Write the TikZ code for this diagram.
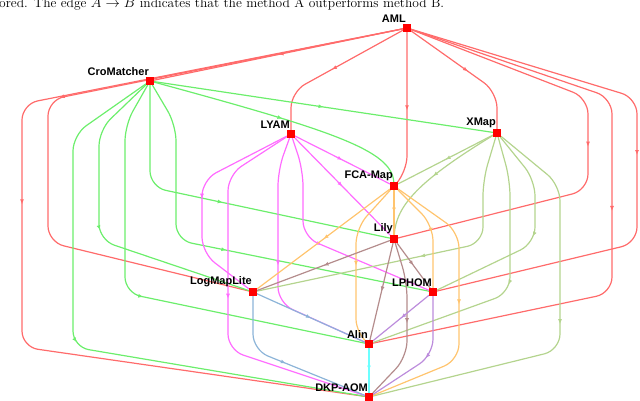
\documentclass[tikz,border=0pt]{standalone}
\usepackage{fontspec}
\newfontfamily\lab{Liberation Sans}
\usetikzlibrary{arrows.meta,decorations.markings,backgrounds}
\definecolor{cR}{HTML}{FF6B6B}
\definecolor{cG}{HTML}{6CEE6C}
\definecolor{cM}{HTML}{FF6CFF}
\definecolor{cO}{HTML}{B4D48E}
\definecolor{cY}{HTML}{FFC46E}
\definecolor{cB}{HTML}{B48C8C}
\definecolor{cL}{HTML}{8CB4D8}
\definecolor{cP}{HTML}{BC8CDC}
\definecolor{cC}{HTML}{6CFFFF}
\tikzset{
  vx/.style={fill=red,minimum size=8pt,inner sep=0pt,outer sep=0pt,
    label={[anchor=south east,inner sep=0pt,xshift=3pt,yshift=1pt,font=\lab\bfseries\fontsize{11}{12}\selectfont]north west:#1}},
  e/.style={line width=1.2pt,rounded corners=16pt,postaction={decorate},
    decoration={markings,mark=at position 0.5 with {\arrow{Latex[length=5pt,width=4pt]}}}},
}
\begin{document}
\begin{tikzpicture}[x=1pt,y=-1pt]
\useasboundingbox (0,0) rectangle (640,401);
\node[anchor=base west,inner sep=0pt,font=\fontsize{13.5}{14}\selectfont] (cap) at (-1,8) {ored. The edge $A\rightarrow B$ indicates that the method A outperforms method B.};
\node[vx=AML] (AML) at (407,28) {};
\node[vx=CroMatcher] (CRO) at (150,81) {};
\node[vx=LYAM] (LYAM) at (291,134) {};
\node[vx=XMap] (XM) at (497,133) {};
\node[vx=FCA-Map] (FCA) at (394,186) {};
\node[vx=Lily] (LI) at (394,239) {};
\node[vx=LogMapLite] (LML) at (253,292) {};
\node[vx=LPHOM] (LP) at (433,292) {};
\node[vx=Alin] (AL) at (369,344) {};
\node[vx=DKP-AOM] (DKP) at (369,397) {};
\begin{scope}[on background layer]
% AML
\draw[e,cR] (AML) -- (CRO);
\draw[e,cR] (AML) -- (291,92) -- (LYAM);
\draw[e,cR] (AML) -- (407,172) -- (FCA);
\draw[e,cR] (AML) -- (497,92) -- (XM);
\draw[e,cR] (AML) -- (22,104) -- (22,347) -- (DKP);
\draw[e,cR] (AML) -- (48,100) -- (48,242) -- (LML);
\draw[e,cR] (AML) -- (588,98) -- (588,190) -- (LI);
\draw[e,cR] (AML) -- (612,98) -- (612,293) -- (AL);
\draw[e,cR] (AML) -- (637,98) -- (637,243) -- (LP);
% CroMatcher
\draw[e,cG] (CRO) -- (XM);
\draw[e,cG] (CRO) .. controls (330,130) and (392,150) .. (FCA);
\draw[e,cG] (CRO) -- (73,135) -- (73,347) -- (DKP);
\draw[e,cG] (CRO) -- (99,130) -- (99,240) -- (LML);
\draw[e,cG] (CRO) -- (125,125) -- (125,293) -- (AL);
\draw[e,cG] (CRO) -- (150,187) -- (LI);
\draw[e,cG] (CRO) -- (176,125) -- (176,240) -- (LP);
% LYAM
\draw[e,cM] (LYAM) -- (FCA);
\draw[e,cM] (LYAM) -- (LI);
\draw[e,cM] (LYAM) -- (202,180) -- (202,253) -- (LML);
\draw[e,cM] (LYAM) -- (228,175) -- (228,350) -- (DKP);
\draw[e,cM] (LYAM) -- (278,170) -- (278,303) -- (AL);
\draw[e,cM] (LYAM) -- (303,170) -- (303,237) -- (LP);
% XMap
\draw[e,cO] (XM) -- (FCA);
\draw[e,cO] (XM) .. controls (420,180) and (396,205) .. (LI);
\draw[e,cO] (XM) -- (483,180) -- (483,243) -- (LML);
\draw[e,cO] (XM) -- (510,180) -- (510,293) -- (AL);
\draw[e,cO] (XM) -- (535,180) -- (535,243) -- (LP);
\draw[e,cO] (XM) -- (560,185) -- (560,350) -- (DKP);
% FCA-Map
\draw[e,cY] (FCA) -- (LML);
\draw[e,cY] (FCA) -- (LI);
\draw[e,cY] (FCA) -- (356,228) -- (356,335) -- (AL);
\draw[e,cY] (FCA) -- (433,225) -- (LP);
\draw[e,cY] (FCA) -- (459,232) -- (459,360) -- (DKP);
% Lily
\draw[e,cB] (LI) -- (LML);
\draw[e,cB] (LI) -- (LP);
\draw[e,cB] (LI) -- (AL);
\draw[e,cB] (LI) -- (407,282) -- (407,357) -- (DKP);
% LogMapLite
\draw[e,cL] (LML) -- (AL);
\draw[e,cL] (LML) -- (253,350) -- (DKP);
% LPHOM
\draw[e,cP] (LP) -- (AL);
\draw[e,cP] (LP) -- (433,355) -- (DKP);
% Alin
\draw[e,cC] (AL) -- (DKP);
\end{scope}
\end{tikzpicture}
\end{document}
